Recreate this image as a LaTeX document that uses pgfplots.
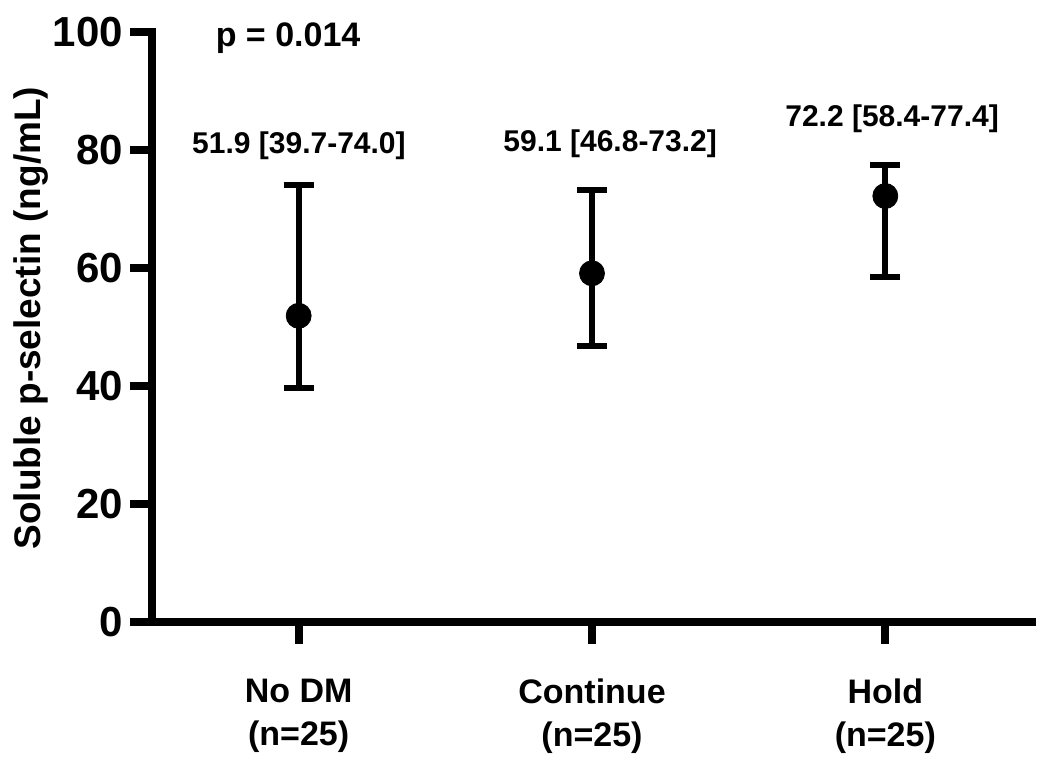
\documentclass[border=0pt]{standalone}
\usepackage{fontspec}
\setmainfont{Liberation Sans}
\usepackage{pgfplots}
\pgfplotsset{compat=1.18}
\begin{document}
\begin{tikzpicture}
\begin{axis}[
 name=ax,
 scale only axis, width=440pt, height=295pt,
 xmin=-0.5, xmax=2.5, ymin=0, ymax=100,
 axis x line=bottom, axis y line=left,
 axis line style={line width=4pt, -, line cap=rect},
 major tick style={line width=4pt, black},
 tick align=outside,
 major tick length=11pt,
 xtick={0,1,2},
 xticklabels={{No DM\\(n=25)},{Continue\\(n=25)},{Hold\\(n=25)}},
 xticklabel style={align=center, font=\fontsize{17}{21.5}\selectfont\bfseries, yshift=-14pt},
 ytick={0,20,40,60,80,100},
 yticklabel style={font=\fontsize{21}{24}\selectfont\bfseries},
 /pgf/number format/assume math mode=true,
 ylabel={Soluble p-selectin (ng/mL)},
 ylabel style={font=\fontsize{18.5}{20}\selectfont\bfseries, at={(axis description cs:-0.137,0.515)}, anchor=center},
 clip=false,
]
\addplot[black, mark=*, mark size=6.25pt, only marks,
  error bars/.cd, y dir=both, y explicit,
  error bar style={line width=3pt},
  error mark options={rotate=90, mark size=7.5pt, line width=3pt}]
coordinates {
(0,51.9) += (0,22.1) -= (0,12.2)
(1,59.1) += (0,14.1) -= (0,12.3)
(2,72.2) += (0,5.2) -= (0,13.8)
};
\node[font=\fontsize{15}{17}\selectfont\bfseries] at (axis cs:0.001,80.8) {51.9 [39.7-74.0]};
\node[font=\fontsize{15}{17}\selectfont\bfseries] at (axis cs:1.062,81) {59.1 [46.8-73.2]};
\node[font=\fontsize{15}{17}\selectfont\bfseries] at (axis cs:2.023,85.3) {72.2 [58.4-77.4]};
\node[font=\fontsize{17}{20}\selectfont\bfseries] at (axis cs:-0.036,99) {p = 0.014};
\end{axis}
\pgfresetboundingbox
\path ([shift={(-76pt,-74.5pt)}]ax.south west) rectangle ++(525pt,385.5pt);
\end{tikzpicture}
\end{document}
